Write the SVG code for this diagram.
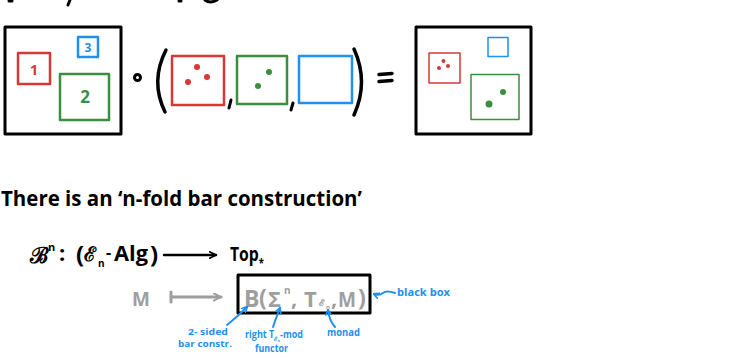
<svg xmlns="http://www.w3.org/2000/svg" width="729" height="358" viewBox="0 0 729 358">
<defs>
<style>
.hand{font-family:"Open Sans","Liberation Sans",sans-serif;font-weight:bold}
.blk{fill:#000}
.gry{fill:#9e9e9e}
.blu{fill:#1e90f0}
.red{fill:#d93636}
.grn{fill:#3a8f3e}
.bx{fill:none;stroke-linejoin:round}
.ln{fill:none;stroke-linecap:round;stroke-linejoin:round}
</style>
<marker id="ahB" viewBox="0 0 10 10" refX="9" refY="5" markerWidth="8" markerHeight="8" markerUnits="userSpaceOnUse" orient="auto"><path d="M1,1 L9,5 L1,9" fill="none" stroke="#000" stroke-width="2" stroke-linecap="round"/></marker>
<marker id="ahG" viewBox="0 0 10 10" refX="9" refY="5" markerWidth="9" markerHeight="9" markerUnits="userSpaceOnUse" orient="auto"><path d="M1,1 L9,5 L1,9" fill="none" stroke="#9e9e9e" stroke-width="2.2" stroke-linecap="round"/></marker>
<marker id="ahU" viewBox="0 0 10 10" refX="8" refY="5" markerWidth="7" markerHeight="7" markerUnits="userSpaceOnUse" orient="auto"><path d="M1,1 L9,5 L1,9" fill="none" stroke="#1e90f0" stroke-width="2.2" stroke-linecap="round"/></marker>
</defs>

<!-- cut-off fragments at top -->
<g id="top-fragments" class="ln" stroke="#000" stroke-width="3">
<path d="M9,1 L12,1"/>
<path d="M70,0 L68,5"/>
<path d="M179,1 L181,1"/>
<path d="M205,0 Q210,4 217,0"/>
</g>

<g id="left-box">
<rect class="bx" x="5" y="27" width="116" height="107" stroke="#000" stroke-width="3"/>
<rect class="bx" x="18" y="53" width="32" height="31" stroke="#d93636" stroke-width="2.5"/>
<text class="hand red" x="34" y="75" font-size="15" text-anchor="middle">1</text>
<rect class="bx" x="78" y="37" width="20" height="20" stroke="#1e90f0" stroke-width="2.5"/>
<text class="hand blu" x="88" y="51.5" font-size="12" text-anchor="middle">3</text>
<rect class="bx" x="60" y="74" width="49" height="46" stroke="#3a8f3e" stroke-width="2.5"/>
<text class="hand grn" x="85" y="103" font-size="17" text-anchor="middle">2</text>
</g>

<g id="compose" class="ln" stroke="#000">
<circle cx="137.5" cy="77.5" r="3" stroke-width="3"/>
<path d="M166,50 Q150,81 165,112" stroke-width="3.5"/>
<path d="M354,49 Q369,82 354,115" stroke-width="3.5"/>
<path d="M231,100 L229,108" stroke-width="3"/>
<path d="M293,103 L291,110" stroke-width="3"/>
<path d="M379,74.5 L392,73.5" stroke-width="3.5"/>
<path d="M379,81.5 L392,80.5" stroke-width="3.5"/>
</g>

<g id="red-box">
<rect class="bx" x="172" y="56" width="52" height="49" stroke="#d93636" stroke-width="2.5"/>
<circle class="red" cx="197" cy="67" r="3"/>
<circle class="red" cx="188" cy="82" r="3"/>
<circle class="red" cx="207" cy="77" r="3"/>
</g>
<g id="green-box">
<rect class="bx" x="237" y="56" width="50" height="48" stroke="#3a8f3e" stroke-width="2.5"/>
<circle class="grn" cx="269" cy="72" r="3"/>
<circle class="grn" cx="258" cy="86" r="3"/>
</g>
<g id="blue-box">
<rect class="bx" x="299" y="56" width="53" height="47" stroke="#1e90f0" stroke-width="2.5"/>
</g>

<g id="right-box">
<rect class="bx" x="416" y="27" width="115" height="107" stroke="#000" stroke-width="3"/>
<rect class="bx" x="429" y="53" width="31" height="30" stroke="#d93636" stroke-width="1.5"/>
<circle class="red" cx="443.5" cy="61" r="2"/>
<circle class="red" cx="439" cy="68" r="2"/>
<circle class="red" cx="448" cy="66" r="2"/>
<rect class="bx" x="488" y="37.5" width="20" height="19" stroke="#1e90f0" stroke-width="1.5"/>
<rect class="bx" x="471" y="74.5" width="48" height="45" stroke="#3a8f3e" stroke-width="1.5"/>
<circle class="grn" cx="503" cy="92" r="3"/>
<circle class="grn" cx="489" cy="104" r="3.5"/>
</g>

<g id="heading">
<text class="hand blk" x="1" y="206" font-size="21" textLength="361" lengthAdjust="spacingAndGlyphs">There is an ‘n-fold bar construction’</text>
</g>

<g id="bar-functor" class="hand blk">
<text x="30" y="263" font-size="22">ℬ</text>
<text x="48" y="251" font-size="11">n</text>
<text x="59" y="261" font-size="22">:</text>
<text x="76" y="263" font-size="24">(</text>
<text x="84" y="261" font-size="20">ℰ</text>
<text x="98" y="267" font-size="10">n</text>
<text x="106" y="258" font-size="16">-</text>
<text x="114" y="261" font-size="21" textLength="34" lengthAdjust="spacingAndGlyphs">Alg</text>
<text x="150" y="263" font-size="24">)</text>
<text x="230" y="261" font-size="20" textLength="34" lengthAdjust="spacingAndGlyphs">Top<tspan font-size="12" dy="7">*</tspan></text>
</g>

<g id="M">
<text class="hand gry" x="132" y="306" font-size="19">M</text>
</g>

<g id="black-box">
<rect class="bx" x="238" y="275" width="132" height="38" stroke="#000" stroke-width="3"/>
<g class="hand gry">
<text x="244" y="307" font-size="23">B</text>
<text x="259" y="306" font-size="23">(</text>
<text x="268" y="307" font-size="22">Σ</text>
<text x="284" y="294" font-size="10">n</text>
<text x="291" y="306" font-size="22">,</text>
<text x="304" y="307" font-size="22">T</text>
<text x="319" y="306" font-size="9">ℰ</text>
<text x="326" y="309" font-size="6">n</text>
<text x="331" y="306" font-size="22">,</text>
<text x="338" y="307" font-size="21" textLength="18" lengthAdjust="spacingAndGlyphs">M</text>
<text x="358" y="306" font-size="23">)</text>
</g>
</g>

<g id="labels" class="hand blu">
<text x="397" y="296" font-size="10" textLength="53" lengthAdjust="spacingAndGlyphs">black box</text>
<text x="188" y="335" font-size="9.5" textLength="40" lengthAdjust="spacingAndGlyphs">2- sided</text>
<text x="178" y="347" font-size="9.5" textLength="54" lengthAdjust="spacingAndGlyphs">bar constr.</text>
<text x="245" y="338" font-size="10" textLength="58" lengthAdjust="spacingAndGlyphs">right T<tspan font-size="6" dy="3">ℰₙ</tspan><tspan dy="-3">-mod</tspan></text>
<text x="255" y="352" font-size="10" textLength="33" lengthAdjust="spacingAndGlyphs">functor</text>
<text x="327" y="336" font-size="10" textLength="33" lengthAdjust="spacingAndGlyphs">monad</text>
</g>

<g id="connectors" class="ln">
<path d="M164,255 L216,255" stroke="#000" stroke-width="2.5" marker-end="url(#ahB)"/>
<path d="M171,292 L171,302 M171,297 L221,297" stroke="#9e9e9e" stroke-width="3" marker-end="url(#ahG)"/>
<path d="M395,293 Q386,290 383,293 Q379,296 374,294" stroke="#1e90f0" stroke-width="2" marker-end="url(#ahU)"/>
<path d="M227,325 Q237,317 247,307" stroke="#1e90f0" stroke-width="2" marker-end="url(#ahU)"/>
<path d="M273,327 Q276,318 280,308" stroke="#1e90f0" stroke-width="2" marker-end="url(#ahU)"/>
<path d="M335,327 Q329,320 328,310" stroke="#1e90f0" stroke-width="2" marker-end="url(#ahU)"/>
</g>
</svg>
